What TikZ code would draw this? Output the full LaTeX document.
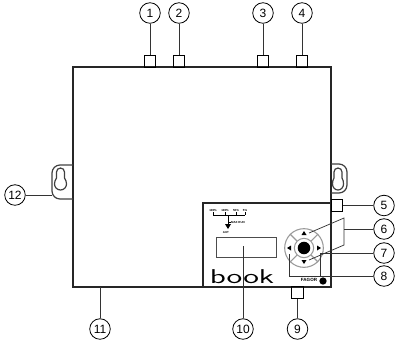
\documentclass[tikz,border=0pt]{standalone}
\usepackage{fontspec}
\setmainfont{Liberation Sans}
\usetikzlibrary{positioning}
\begin{document}
\begin{tikzpicture}[x=0.75pt,y=-0.75pt,every path/.append style={line width=0.6pt},
		callout/.style = {draw,circle,minimum size=15.4pt,inner sep=0pt,font=\fontsize{9}{9}\selectfont},
		port/.style = {draw,line width=1pt,minimum size=8.6pt,inner sep=0pt},
		leader/.style = {draw,line width=0.55pt,black!80},
		ring/.style = {draw=black!40,line width=0.8pt},
		ear/.style = {draw,line width=0.9pt,black!75},
		tiny/.style = {font=\bfseries\fontsize{2.2}{2.2}\selectfont,inner sep=0pt}]
	\useasboundingbox (0,0) rectangle (395,344);
	% case
	\draw[line width=1.1pt,black!85] (73,67) rectangle (331,287);
	\draw[line width=1.1pt,black!85] (203,287) |- (331,203);
	% mounting ears
	\draw[ear] (73,165) -- (60,165) to[out=180,in=90] (52,173) -- (52,191) to[out=-90,in=180] (60,199) -- (73,199);
	\draw[ear] (60.5,168) to[out=0,in=90] (64.5,172) -- (64.5,178) to[out=-60,in=90] (66.5,184) to[out=-90,in=0] (60.5,190) to[out=180,in=-90] (54.5,184) to[out=90,in=-120] (56.5,178) -- (56.5,172) to[out=90,in=180] (60.5,168);
	\draw[ear] (331,164) -- (339,164) to[out=0,in=90] (347,172) -- (347,185) to[out=-90,in=0] (339,193) -- (331,193);
	\draw[ear] (338,168) to[out=0,in=90] (342,172) -- (342,178) to[out=-60,in=90] (343.5,184) to[out=-90,in=0] (338,190) to[out=180,in=-90] (332.5,184) to[out=90,in=-120] (334,178) -- (334,172) to[out=90,in=180] (338,168);
	% connectors
	\node (P1) at (150,61.5) [port] {};
	\node (P2) at (179,61.5) [port] {};
	\node (P3) at (263,61.5) [port] {};
	\node (P4) at (302,61.5) [port] {};
	\node (P5) at (337,205.5) [port] {};
	\node (P9) at (297.5,292.5) [port] {};
	% display and keypad
	\node (LCD) at (246.5,247.5) [draw,black!70,line width=0.8pt,minimum width=44.5pt,minimum height=15.6pt,inner sep=0pt] {};
	\coordinate (LCDin) at (243,246);
	\node (pad) at (304,248) [circle,ring,minimum size=29pt,inner sep=0pt] {};
	\node (hub) at (304,248) [circle,ring,minimum size=14.5pt,inner sep=0pt] {};
	\draw[ring] (hub.45) -- (pad.45);
	\draw[ring] (hub.135) -- (pad.135);
	\draw[ring] (hub.225) -- (pad.225);
	\draw[ring] (hub.315) -- (pad.315);
	\node (knob) at (304,248) [circle,fill=black,minimum size=9.4pt,inner sep=0pt] {};
	\fill (304,231) -- (306.5,235) -- (301.5,235) -- cycle;
	\fill (304,264) -- (306.5,260) -- (301.5,260) -- cycle;
	\fill (287,248) -- (291,245.5) -- (291,250.5) -- cycle;
	\fill (321,248) -- (317,245.5) -- (317,250.5) -- cycle;
	\coordinate (Kup) at (309,233);
	\coordinate (Kdown) at (309,260);
	\coordinate (Kleft) at (289,254);
	% logo
	\node (brand) at (242,283) [anchor=base,inner sep=0pt,font=\sffamily\fontsize{15}{15}\selectfont,xscale=1.6] {book};
	\node (fagor) at (309,280) [inner sep=0pt,font=\bfseries\fontsize{3.4}{4}\selectfont] {FAGOR};
	\node (flogo) at (323,281) [circle,fill=black,minimum size=5.5pt,inner sep=0pt] {};
	% tree above display
	\node (t1) at (213,210) [tiny] {100\%};
	\node (t2) at (225,210) [tiny] {100\%};
	\node (t3) at (236,210) [tiny] {50\%};
	\node (t4) at (245,210) [tiny] {5\%};
	\node (tout) at (226,232) [tiny] {AUT};
	\node (tsub) at (238,222) [tiny] {MAX RUN};
	\draw[line width=0.6pt] (213,215) -- (245,215);
	\draw[line width=0.5pt] (213,212) -- (213,215) (225,212) -- (225,215) (236,212) -- (236,215) (245,212) -- (245,215);
	\draw[line width=0.4pt] (tsub.west) -- (228,222);
	\draw[line width=0.5pt] (228,215) -- (228,224);
	\fill (225,224) -- (231,224) -- (228,229) -- cycle;
	% callouts
	\node (c1) at (150,13) [callout] {1};
	\node (c2) at (179,13) [callout] {2};
	\node (c3) at (263,13) [callout] {3};
	\node (c4) at (302,13) [callout] {4};
	\node (c5) at (384,205.5) [callout] {5};
	\node (c6) at (384,229) [callout] {6};
	\node (c7) at (384,253) [callout] {7};
	\node (c8) at (384,276) [callout] {8};
	\node (c9) at (297.5,329) [callout] {9};
	\node (c10) at (243,329) [callout] {10};
	\node (c11) at (100,329) [callout] {11};
	\node (c12) at (15,195) [callout] {12};
	\draw[leader] (c1) -- (P1);
	\draw[leader] (c2) -- (P2);
	\draw[leader] (c3) -- (P3);
	\draw[leader] (c4) -- (P4);
	\draw[leader] (c5) -- (P5);
	\draw[leader] (c9) -- (P9);
	\draw[leader] (c10) -- (LCDin);
	\coordinate (E11) at (100,287);
	\draw[leader] (c11) -- (E11);
	\coordinate (E12) at (52,195);
	\draw[leader] (c12) -- (E12);
	\coordinate (J6) at (344,229);
	\coordinate (J6a) at (344,218);
	\coordinate (J6b) at (344,245);
	\draw[leader] (c6) -- (J6);
	\draw[leader] (Kup) -- (J6a) -- (J6b) -- (Kdown);
	\coordinate (B7) at (320,277);
	\draw[leader] (c7) -| (B7);
	\draw[leader] (c8) -| (Kleft);
\end{tikzpicture}
\end{document}
